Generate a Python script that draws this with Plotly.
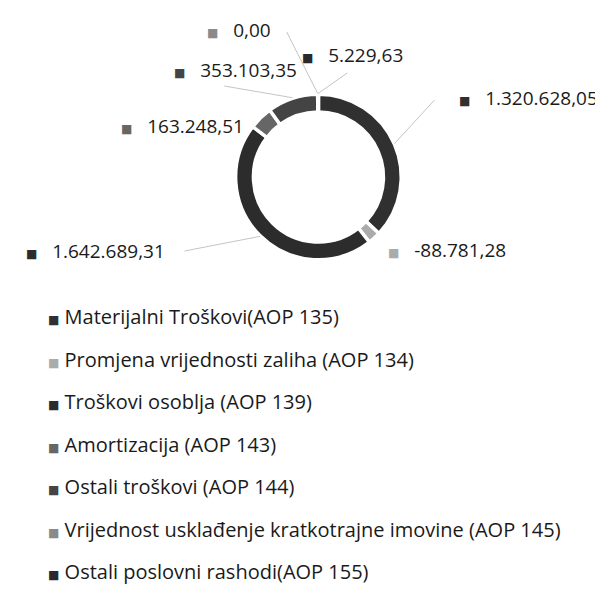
import math
import plotly.graph_objects as go

# ---- data ----
categories = [
    "Materijalni Troškovi(AOP 135)",
    "Promjena vrijednosti zaliha (AOP 134)",
    "Troškovi osoblja (AOP 139)",
    "Amortizacija (AOP 143)",
    "Ostali troškovi (AOP 144)",
    "Vrijednost usklađenje kratkotrajne imovine (AOP 145)",
    "Ostali poslovni rashodi(AOP 155)",
]
values = [1320628.05, -88781.28, 1642689.31, 163248.51, 353103.35, 0.00, 5229.63]
value_labels = ["1.320.628,05", "-88.781,28", "1.642.689,31", "163.248,51",
                "353.103,35", "0,00", "5.229,63"]

# ---- styles / layout ----
colors = ["#303030", "#ababab", "#2c2c2c", "#666666", "#444444", "#8a8a8a", "#2a2a2a"]
W, H = 603, 589
CX, CY, R = 308, 169, 83.5
HOLE = 0.785
# label placement: left edge of the square marker, vertical centre (pixels)
label_pos = [(448, 90), (376, 242), (11, 243), (107, 118), (160, 62), (194, 22), (289, 47)]
# outer end of each leader line (None = no visible line)
line_end = [(425, 92), None, (173, 243), None, (213, 78), (276, 24), (337, 65)]
FONT = "Open Sans, Roboto, Arial, sans-serif"
SQ = "font-family:DejaVu Sans;font-size:12px"
NB = "\u00a0"

fig = go.Figure()

fig.add_trace(go.Pie(
    labels=categories,
    values=[abs(v) for v in values],
    sort=False,
    direction="clockwise",
    rotation=0,
    hole=HOLE,
    marker=dict(colors=colors, line=dict(color="white", width=3.5)),
    textinfo="none",
    hoverinfo="label+value",
    showlegend=False,
    domain=dict(x=[(CX - R) / W, (CX + R) / W], y=[1 - (CY + R) / H, 1 - (CY - R) / H]),
))

# legend entries (square drawn in the label text)
for i, (cat, col) in enumerate(zip(categories, colors)):
    fig.add_trace(go.Scatter(
        x=[None], y=[None], mode="markers",
        name=f"<span style='{SQ};color:{col}'>■</span> {cat}",
        marker=dict(symbol="square", size=1, color="rgba(0,0,0,0)",
                    line=dict(width=0)),
        legendgroup=f"g{i}", showlegend=True, hoverinfo="skip",
    ))

# data labels with leader lines
total = sum(abs(v) for v in values)
cum = 0.0
for i, v in enumerate(values):
    frac = abs(v) / total
    mid = (cum + frac / 2) * 2 * math.pi
    cum += frac
    px = CX + R * math.sin(mid)
    py = CY - R * math.cos(mid)
    lx, ly = label_pos[i]
    fig.add_annotation(
        x=lx / W, y=1 - ly / H, xref="paper", yref="paper",
        xanchor="left", yanchor="middle", showarrow=False,
        text=f"<span style='{SQ};color:{colors[i]}'>■</span>{NB * 3}{value_labels[i]}",
        font=dict(family=FONT, size=19, color="#1a1a1a"),
    )
    if line_end[i] is not None:
        ex, ey = line_end[i]
        fig.add_shape(
            type="line", xref="paper", yref="paper",
            x0=px / W, y0=1 - py / H, x1=ex / W, y1=1 - ey / H,
            line=dict(color="#c4c4c4", width=1),
        )

fig.update_layout(
    width=W, height=H,
    margin=dict(l=0, r=0, t=0, b=0),
    paper_bgcolor="white", plot_bgcolor="white",
    xaxis=dict(visible=False), yaxis=dict(visible=False),
    legend=dict(
        x=-5 / W, y=1 - 289 / H, xanchor="left", yanchor="top",
        font=dict(family=FONT, size=20, color="#1a1a1a"),
        tracegroupgap=13.5, itemwidth=30, traceorder="grouped",
        bgcolor="rgba(0,0,0,0)",
    ),
)

fig.write_html("out.html")
